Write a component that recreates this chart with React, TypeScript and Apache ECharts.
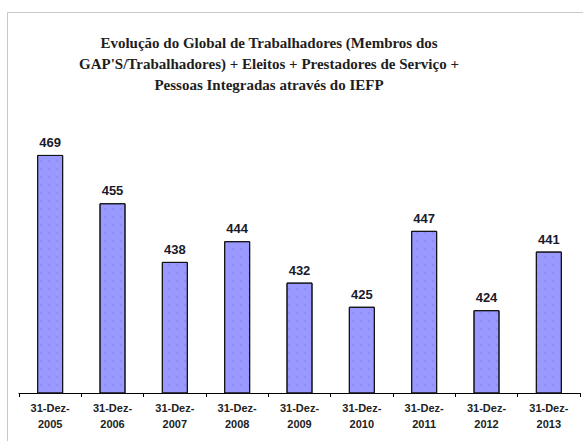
import React, { useEffect, useRef } from "react";
import * as echarts from "echarts";

const categories = [
  "31-Dez-\n2005",
  "31-Dez-\n2006",
  "31-Dez-\n2007",
  "31-Dez-\n2008",
  "31-Dez-\n2009",
  "31-Dez-\n2010",
  "31-Dez-\n2011",
  "31-Dez-\n2012",
  "31-Dez-\n2013",
];
const values = [469, 455, 438, 444, 432, 425, 447, 424, 441];
const titleLines = [
  "Evolução do Global de Trabalhadores (Membros dos",
  "GAP'S/Trabalhadores) + Eleitos + Prestadores de Serviço +",
  "Pessoas Integradas através do IEFP",
];

export default function App() {
  const ref = useRef<HTMLDivElement>(null);
  useEffect(() => {
    if (!ref.current) return;
    const chart = echarts.init(ref.current, null, { renderer: "svg" });
    chart.setOption({
      animation: false,
      backgroundColor: "#ffffff",
      aria: { enabled: true, decal: { show: true } },
      graphic: [
        {
          type: "rect",
          shape: { x: 7.5, y: 12.5, width: 600, height: 500 },
          style: { fill: "none", stroke: "#c8c8c8", lineWidth: 1 },
          silent: true,
          z: -1,
        },
        {
          type: "text",
          x: 269,
          y: 32,
          style: {
            text: titleLines.join("\n"),
            textAlign: "center",
            textVerticalAlign: "top",
            font: "bold 15px 'Liberation Serif', serif",
            lineHeight: 21,
            fill: "#1e1e1e",
          },
        },
      ],
      grid: { left: 19, right: 3, top: 117, bottom: 48, containLabel: false },
      xAxis: {
        type: "category",
        data: categories,
        axisLine: { lineStyle: { color: "#000", width: 1 } },
        axisTick: { show: true, alignWithLabel: false, length: 4, lineStyle: { color: "#000" } },
        axisLabel: {
          interval: 0,
          margin: 7,
          fontFamily: "'Liberation Sans', Arial, sans-serif",
          fontWeight: "bold",
          fontSize: 11,
          lineHeight: 16,
          color: "#222",
        },
      },
      yAxis: {
        type: "value",
        min: 400,
        max: 480,
        show: false,
        splitLine: { show: false },
      },
      series: [
        {
          type: "bar",
          data: values,
          barWidth: 26,
          itemStyle: {
            color: "#9999ff",
            borderColor: "#111",
            borderWidth: 1,
            decal: {
              symbol: "circle",
              symbolSize: 0.6,
              color: "rgba(80,80,180,0.45)",
              dashArrayX: [2, 6],
              dashArrayY: [2, 6],
              rotation: 0,
            },
          },
          label: {
            show: true,
            position: "top",
            distance: 6,
            fontFamily: "'Liberation Sans', Arial, sans-serif",
            fontWeight: "bold",
            fontSize: 13,
            color: "#1a1a2a",
          },
        },
      ],
    });
    return () => chart.dispose();
  }, []);
  return (
    <div
      ref={ref}
      style={{ position: "fixed", left: 0, top: 0, width: 583, height: 441 }}
    />
  );
}
